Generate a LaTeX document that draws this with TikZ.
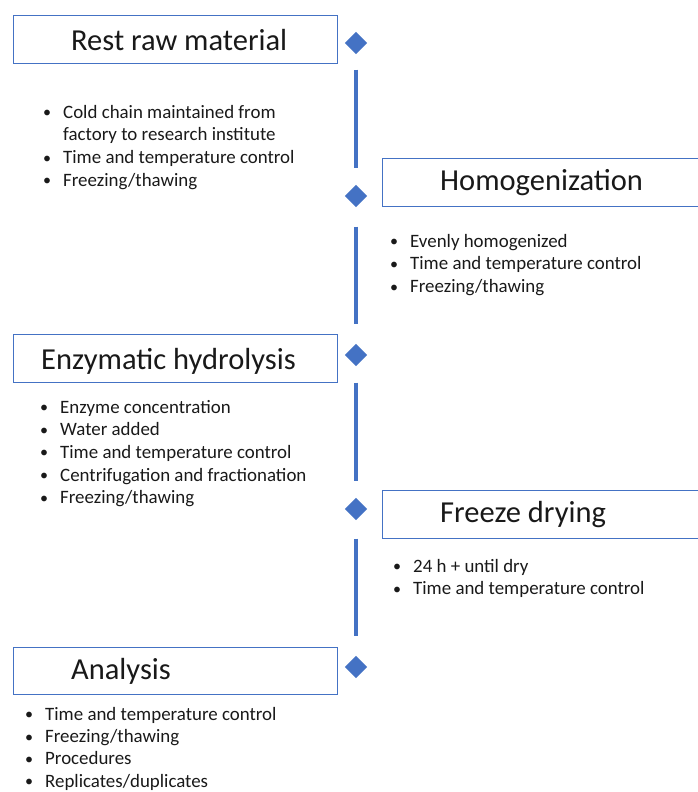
\documentclass[tikz,border=0pt]{standalone}
\usepackage{fontspec}
\setmainfont{Carlito}
\usetikzlibrary{shapes.geometric}
\definecolor{officeblue}{HTML}{4472C4}
\tikzset{
  stagebox/.style={draw=officeblue, line width=1pt, fill=white},
  stagetitle/.style={anchor=west, inner sep=0pt, font=\fontsize{30.5}{30.5}\selectfont, text=black!90},
  marker/.style={diamond, fill=officeblue, draw=none, minimum width=22.6pt, minimum height=22.6pt, inner sep=0pt},
  stem/.style={draw=officeblue, line width=4.5pt},
  bullets/.style={anchor=north west, inner sep=0pt, align=left, font=\fontsize{18.9}{22.6}\selectfont, text=black!90},
}
\newcommand{\bitem}[1]{\makebox[20pt][l]{\raisebox{0.5pt}{\scalebox{0.85}{\textbullet}}}#1}
\begin{document}
\begin{tikzpicture}[x=1pt, y=-1pt]
  \useasboundingbox (0,0) rectangle (698,792);

  % stage boxes
  \draw[stagebox] (13,16) rectangle (337,64);
  \node[stagetitle] (t1) at (71,40) {Rest raw material};
  \draw[stagebox] (382,158) rectangle (702,206);
  \node[stagetitle] (t2) at (440,183) {Homogenization};
  \draw[stagebox] (13,334) rectangle (337,382);
  \node[stagetitle] (t3) at (41,361.5) {Enzymatic hydrolysis};
  \draw[stagebox] (382,490) rectangle (702,538);
  \node[stagetitle] (t4) at (440,515) {Freeze drying};
  \draw[stagebox] (13,647) rectangle (337,694);
  \node[stagetitle] (t5) at (71,671) {Analysis};

  % timeline markers
  \node[marker] (d1) at (356,43) {};
  \node[marker] (d2) at (356,196) {};
  \node[marker] (d3) at (356,355) {};
  \node[marker] (d4) at (356,509) {};
  \node[marker] (d5) at (356,667) {};

  % timeline segments
  \draw[stem, shorten <=15pt, shorten >=17pt] (d1) -- (d2);
  \draw[stem, shorten <=19pt, shorten >=20pt] (d2) -- (d3);
  \draw[stem, shorten <=16pt, shorten >=17pt] (d3) -- (d4);
  \draw[stem, shorten <=18pt, shorten >=20pt] (d4) -- (d5);

  % notes for each stage
  \node[bullets] (n1) at (43,105) {%
    \bitem{Cold chain maintained from}\\
    \hspace*{20pt}factory to research institute\\
    \bitem{Time and temperature control}\\
    \bitem{Freezing/thawing}};
  \node[bullets] (n2) at (390,234) {%
    \bitem{Evenly homogenized}\\
    \bitem{Time and temperature control}\\
    \bitem{Freezing/thawing}};
  \node[bullets] (n3) at (40,400) {%
    \bitem{Enzyme concentration}\\
    \bitem{Water added}\\
    \bitem{Time and temperature control}\\
    \bitem{Centrifugation and fractionation}\\
    \bitem{Freezing/thawing}};
  \node[bullets] (n4) at (393,559) {%
    \bitem{24 h + until dry}\\
    \bitem{Time and temperature control}};
  \node[bullets, font=\fontsize{18.9}{22.3}\selectfont] (n5) at (25,707) {%
    \bitem{Time and temperature control}\\
    \bitem{Freezing/thawing}\\
    \bitem{Procedures}\\
    \bitem{Replicates/duplicates}};
\end{tikzpicture}
\end{document}
